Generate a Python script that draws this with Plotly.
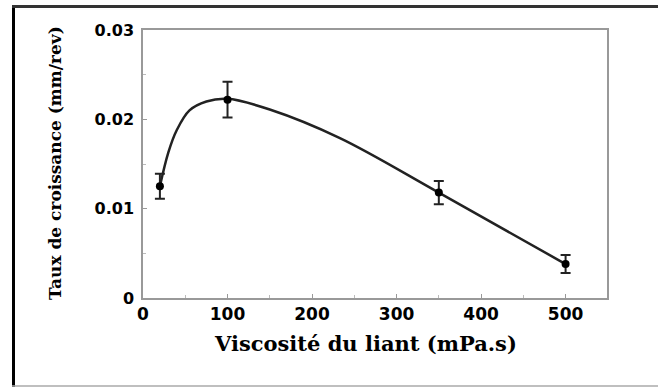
import plotly.graph_objects as go

# measured points
visc = [20, 100, 350, 500]
taux = [0.0125, 0.0222, 0.0118, 0.0038]
err = [0.0014, 0.0020, 0.0013, 0.0010]

# fitted curve
curve_x = [20, 30, 40, 55, 75, 100, 150, 233, 350, 500]
curve_y = [0.0125, 0.0163, 0.0188, 0.0210, 0.0220, 0.0223, 0.0211, 0.0179, 0.0118, 0.0038]

x_ticks = [0, 100, 200, 300, 400, 500]
y_ticks = [0, 0.01, 0.02, 0.03]
y_labels = ["0", "0.01", "0.02", "0.03"]

x_title = "Viscosité du liant (mPa.s)"
y_title = "Taux de croissance (mm/rev)"

W, H = 658, 387
L, R, T, B = 143, 607, 30, 298

fig = go.Figure()
fig.add_trace(go.Scatter(x=curve_x, y=curve_y, mode="lines",
                         line=dict(color="#222", width=2.5, shape="spline", smoothing=1.0),
                         hoverinfo="skip", showlegend=False))
fig.add_trace(go.Scatter(x=visc, y=taux, mode="markers",
                         marker=dict(color="black", size=8),
                         error_y=dict(type="data", array=err, color="#222", thickness=2, width=5),
                         showlegend=False))

def px_x(p):
    return (p - L) / (R - L)

def px_y(p):
    return (B - p) / (B - T)

shapes = [
    dict(type="line", xref="paper", yref="paper", x0=px_x(13.5), x1=px_x(13.5),
         y0=px_y(5), y1=px_y(387), line=dict(color="black", width=3)),
    dict(type="line", xref="paper", yref="paper", x0=px_x(12), x1=px_x(660),
         y0=px_y(6.5), y1=px_y(6.5), line=dict(color="#333", width=3)),
    dict(type="line", xref="paper", yref="paper", x0=px_x(12), x1=px_x(660),
         y0=px_y(386), y1=px_y(386), line=dict(color="#aaa", width=1.5)),
]

annotations = [
    dict(text="<b>%s</b>" % x_title, xref="paper", yref="paper", x=px_x(365), y=px_y(343),
         xanchor="center", yanchor="middle", showarrow=False,
         font=dict(family="DejaVu Serif", size=21, color="black")),
    dict(text="<b>%s</b>" % y_title, xref="paper", yref="paper", x=px_x(55), y=px_y(163),
         xanchor="center", yanchor="middle", showarrow=False, textangle=-90,
         font=dict(family="DejaVu Serif", size=17, color="black")),
]

xtickfont = dict(family="DejaVu Sans", size=17, color="black")
ytickfont = dict(family="DejaVu Sans", size=16, color="black")

fig.update_layout(
    width=W, height=H,
    margin=dict(l=L, r=W - R, t=T, b=H - B),
    paper_bgcolor="white", plot_bgcolor="white",
    shapes=shapes, annotations=annotations,
    xaxis=dict(range=[0, 549], tickvals=x_ticks, ticktext=["<b>%d</b>" % v for v in x_ticks],
               tickfont=xtickfont, ticks="inside", ticklen=4, tickcolor="#999",
               minor=dict(dtick=50, ticks="inside", ticklen=3, tickcolor="#bbb"),
               showgrid=False, zeroline=False, showline=True, linecolor="#999", linewidth=1.5,
               mirror=True),
    yaxis=dict(range=[0, 0.03], tickvals=y_ticks, ticktext=["<b>%s</b>" % s for s in y_labels],
               tickfont=ytickfont, ticks="inside", ticklen=4, tickcolor="#999",
               ticklabelstandoff=4,
               minor=dict(dtick=0.005, ticks="inside", ticklen=3, tickcolor="#bbb"),
               showgrid=False, zeroline=False, showline=True, linecolor="#999", linewidth=1.5,
               mirror=True),
)

fig.write_html("out.html", config={"displayModeBar": False},
               post_script="document.body.style.margin='0';")
